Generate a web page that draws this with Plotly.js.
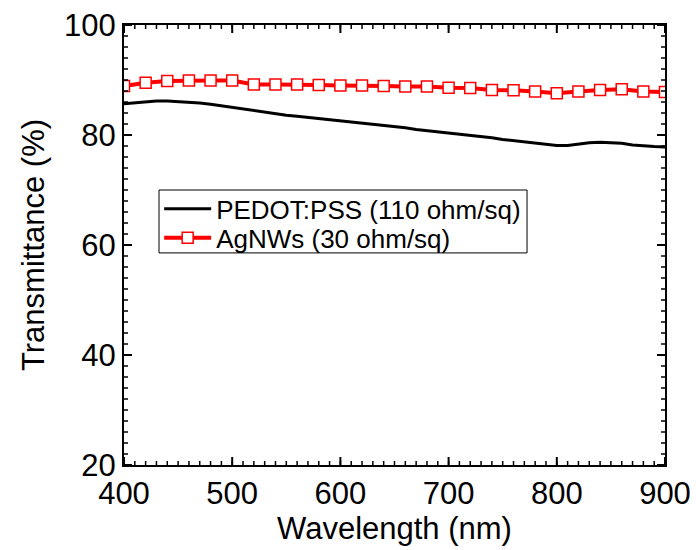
<!DOCTYPE html>
<html>
<head>
<meta charset="utf-8">
<script src="https://cdn.plot.ly/plotly-3.0.1.min.js"></script>
<style>html,body{margin:0;padding:0;background:#fff;}#chart{width:696px;height:550px;}</style>
</head>
<body>
<div id="chart"></div>
<script>
const pedotWavelength = [400,410,420,430,440,450,460,470,480,490,500,510,520,530,540,550,560,570,580,590,600,610,620,630,640,650,660,670,680,690,700,710,720,730,740,750,760,770,780,790,800,810,820,830,840,850,860,870,880,890,900];
const pedotT = [85.7,85.9,86.0,86.2,86.2,86.1,86.0,85.8,85.6,85.3,85.0,84.8,84.5,84.2,83.9,83.6,83.4,83.2,83.0,82.7,82.5,82.3,82.1,81.9,81.7,81.5,81.3,81.0,80.8,80.6,80.4,80.2,80.0,79.7,79.5,79.2,79.0,78.8,78.6,78.4,78.1,78.1,78.4,78.6,78.7,78.6,78.5,78.2,78.0,77.9,77.8];
const agWavelength = [400,420,440,460,480,500,520,540,560,580,600,620,640,660,680,700,720,740,760,780,800,820,840,860,880,900];
const agT = [88.9,89.5,89.8,89.9,89.9,89.9,89.2,89.2,89.2,89.1,89.0,89.0,88.9,88.8,88.8,88.6,88.55,88.2,88.15,87.9,87.6,87.9,88.2,88.3,87.9,87.8];
const seriesNames = ['PEDOT:PSS (110 ohm/sq)', 'AgNWs (30 ohm/sq)'];
const xRange = [400, 900];
const yRange = [20, 100];
const xMajorStep = 100, xMinorStep = 10;
const yMajorStep = 20, yMinorStep = 2;

const font = 'Arial, "Liberation Sans", sans-serif';
const traces = [
  {x: pedotWavelength, y: pedotT, name: seriesNames[0], mode: 'lines',
   legend: 'legend', line: {color: '#000000', width: 3}},
  {x: agWavelength, y: agT, name: seriesNames[1], mode: 'lines+markers',
   legend: 'legend2', line: {color: '#ff0000', width: 4},
   marker: {symbol: 'square', size: 11, color: '#ffffff', line: {color: '#ff0000', width: 1.5}}}
];

// Inward ticks on all four sides, positioned through the axes' own scales.
const tickShapes = [];
function addXTicks(step, len, w) {
  const n = Math.round((xRange[1] - xRange[0]) / step);
  for (let i = 0; i <= n; i++) {
    const v = xRange[0] + i * step;
    const base = {type: 'line', xref: 'x', yref: 'paper', ysizemode: 'pixel', x0: v, x1: v,
                  line: {color: '#000', width: w}, layer: 'above'};
    tickShapes.push(Object.assign({}, base, {yanchor: 0, y0: 0, y1: len}));
    tickShapes.push(Object.assign({}, base, {yanchor: 1, y0: 0, y1: -len}));
  }
}
function addYTicks(step, len, w) {
  const n = Math.round((yRange[1] - yRange[0]) / step);
  for (let i = 0; i <= n; i++) {
    const v = yRange[0] + i * step;
    const base = {type: 'line', xref: 'paper', yref: 'y', xsizemode: 'pixel', y0: v, y1: v,
                  line: {color: '#000', width: w}, layer: 'above'};
    tickShapes.push(Object.assign({}, base, {xanchor: 0, x0: 0, x1: len}));
    tickShapes.push(Object.assign({}, base, {xanchor: 1, x0: 0, x1: -len}));
  }
}
addXTicks(xMinorStep, 4, 1.5);
addXTicks(xMajorStep, 8, 2);
addYTicks(yMinorStep, 4, 1.5);
addYTicks(yMajorStep, 8, 2);

const axisCommon = {
  showline: true, linecolor: '#000', linewidth: 2, mirror: true,
  ticks: '', showgrid: false, zeroline: false, tickmode: 'linear',
  tickfont: {family: font, size: 31, color: '#000'}
};
const legendCommon = {
  xanchor: 'left', yanchor: 'middle', bgcolor: 'rgba(0,0,0,0)', borderwidth: 0,
  font: {family: font, size: 26, color: '#000'}, itemwidth: 47
};
const layout = {
  width: 696, height: 550,
  margin: {l: 124, r: 31, t: 25, b: 85},
  showlegend: true,
  xaxis: Object.assign({}, axisCommon, {
    range: xRange, tick0: xRange[0], dtick: xMajorStep,
    title: {text: 'Wavelength (nm)', font: {family: font, size: 31, color: '#000'}, standoff: 4}
  }),
  yaxis: Object.assign({}, axisCommon, {
    range: yRange, tick0: yRange[0], dtick: yMajorStep,
    title: {text: 'Transmittance (%)', font: {family: font, size: 31, color: '#000'}, standoff: 10}
  }),
  legend: Object.assign({}, legendCommon, {x: 0.065, y: 0.582}),
  legend2: Object.assign({}, legendCommon, {x: 0.065, y: 0.516}),
  shapes: tickShapes.concat([{type: 'rect', xref: 'paper', yref: 'paper', x0: 0.0647, x1: 0.745, y0: 0.482, y1: 0.625,
            line: {color: '#000', width: 1}, fillcolor: 'rgba(0,0,0,0)', layer: 'above'}])
};
Plotly.newPlot('chart', traces, layout, {displayModeBar: false, staticPlot: true});
</script>
</body>
</html>
